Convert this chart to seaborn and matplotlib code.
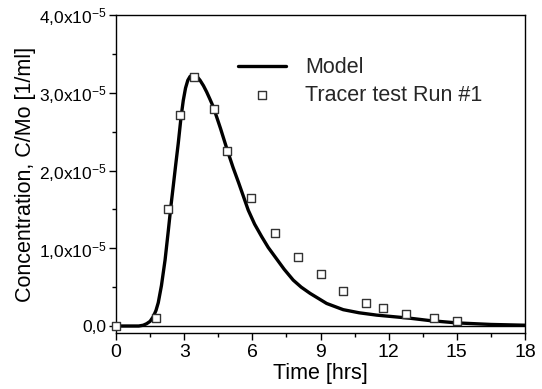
import matplotlib
matplotlib.use("Agg")
import matplotlib.pyplot as plt
import seaborn as sns
import numpy as np
import pandas as pd
from matplotlib.ticker import MultipleLocator, FixedLocator

# Model curve (time in hrs, concentration in units of 1e-5 1/ml)
model_t = [0, 1.0, 1.2, 1.35, 1.5, 1.64, 1.76, 1.86, 2.0, 2.16, 2.3, 2.42, 2.52, 2.63, 2.74, 2.86,
           2.96, 3.06, 3.16, 3.26, 3.37, 3.48, 3.59, 3.7, 3.85, 3.99, 4.13, 4.28, 4.6, 4.9, 5.15, 5.4, 5.82,
           6.1, 6.41, 6.7, 7.0, 7.4, 7.8, 8.15, 8.54, 9.27, 10.0, 10.7, 11.47, 12.2, 12.94, 13.8,
           15.0, 16.5, 18.0]
model_c = [0, 0.0, 0.01, 0.03, 0.06, 0.12, 0.2, 0.3, 0.52, 0.85, 1.22, 1.55, 1.8, 2.08, 2.35, 2.68,
           2.9, 3.06, 3.16, 3.21, 3.23, 3.23, 3.2, 3.16, 3.09, 3.01, 2.92, 2.82, 2.54, 2.26, 2.04, 1.84, 1.49,
           1.31, 1.15, 1.01, 0.89, 0.73, 0.59, 0.5, 0.42, 0.29, 0.21, 0.17, 0.14, 0.12, 0.10, 0.07,
           0.04, 0.02, 0.01]

# Tracer test Run #1
data_t = [0, 1.75, 2.27, 2.83, 3.43, 4.30, 4.90, 5.94, 7.0, 8.01, 9.0, 10.0, 11.0, 11.75, 12.75, 14.0, 15.0]
data_c = [0.0, 0.10, 1.50, 2.72, 3.20, 2.79, 2.25, 1.65, 1.20, 0.89, 0.67, 0.45, 0.30, 0.23, 0.16, 0.10, 0.06]

y_ticks = [0, 1, 2, 3, 4]
y_labels = ["0,0", r"1,0x10$^{-5}$", r"2,0x10$^{-5}$", r"3,0x10$^{-5}$", r"4,0x10$^{-5}$"]
x_ticks = [0, 3, 6, 9, 12, 15, 18]

sns.set_theme(style="ticks")
plt.rcParams['font.family'] = ['Liberation Sans', 'DejaVu Sans']
plt.rcParams['mathtext.fontset'] = 'custom'
plt.rcParams['mathtext.rm'] = 'Liberation Sans'
plt.rcParams['mathtext.it'] = 'Liberation Sans'

fig = plt.figure(figsize=(5.42, 3.89), dpi=100)
ax = fig.add_axes([116/542, 1-333/389, (525-116)/542, (333-15)/389])

model_df = pd.DataFrame({"t": model_t, "c": model_c})
data_df = pd.DataFrame({"t": data_t, "c": data_c})

ax.axhline(0, color="black", lw=1.0, zorder=1)
sns.lineplot(data=model_df, x="t", y="c", ax=ax, color="black", lw=2.4, label="Model",
             sort=False, estimator=None, zorder=2)
sns.scatterplot(data=data_df, x="t", y="c", ax=ax, marker="s", s=40, facecolor="white",
                edgecolor="#333333", linewidth=1.0, label="Tracer test Run #1", zorder=3, clip_on=False)

ax.set_xlim(0, 18)
ax.set_ylim(-0.09, 4.0)
ax.xaxis.set_major_locator(FixedLocator(x_ticks))
ax.xaxis.set_minor_locator(MultipleLocator(1.5))
ax.yaxis.set_major_locator(FixedLocator(y_ticks))
ax.set_yticklabels(y_labels)
ax.yaxis.set_minor_locator(MultipleLocator(0.5))
ax.tick_params(axis="both", which="major", direction="out", length=5, width=1, color="black", labelcolor="black")
ax.tick_params(axis="x", which="major", labelsize=14, pad=3)
ax.tick_params(axis="y", which="major", labelsize=12.5, pad=2)
ax.tick_params(axis="both", which="minor", direction="out", length=3, width=1, color="black")
ax.tick_params(top=False, right=False, which="both")

for sp in ax.spines.values():
    sp.set_visible(True)
    sp.set_color("black")
    sp.set_linewidth(1.0)

ax.set_xlabel("Time [hrs]", fontsize=15.5, color="black", labelpad=1)
ax.set_ylabel("Concentration, C/Mo [1/ml]", fontsize=15.5, color="black", labelpad=2)

leg = ax.legend(loc="upper left", bbox_to_anchor=(0.262, 0.915), frameon=False, fontsize=15.5,
                handlelength=2.2, handletextpad=0.9, labelspacing=0.3, borderpad=0.2, markerscale=0.8)

fig.savefig("out.png", dpi=100)
